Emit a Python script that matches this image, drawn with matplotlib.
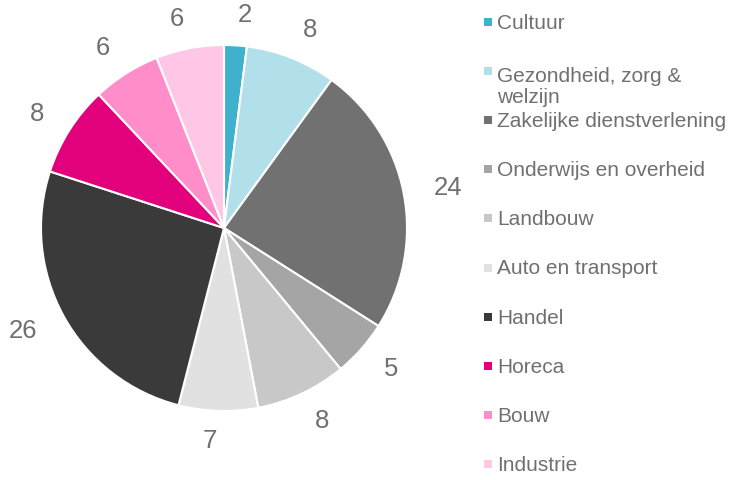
import matplotlib
matplotlib.use("Agg")
import matplotlib.pyplot as plt

sectors = ["Cultuur", "Gezondheid, zorg &\nwelzijn", "Zakelijke dienstverlening",
           "Onderwijs en overheid", "Landbouw", "Auto en transport", "Handel",
           "Horeca", "Bouw", "Industrie"]
values = [2, 8, 24, 5, 8, 7, 26, 8, 6, 6]
colors = ["#3FB1CC", "#B1E0EA", "#717171", "#A5A5A5", "#C8C8C8",
          "#E1E1E1", "#3A3A3A", "#E2007D", "#FF8DCA", "#FFC6E5"]

plt.rcParams['font.family'] = ['Liberation Sans', 'DejaVu Sans']
txt = "#707070"

fig = plt.figure(figsize=(7.34, 4.8), dpi=100)
ax = fig.add_axes([41/734, 69/480, 366/734, 366/480])
ax.pie(values, colors=colors, labels=[str(v) for v in values],
       startangle=90, counterclock=False, labeldistance=1.165,
       wedgeprops=dict(edgecolor='white', linewidth=1.5),
       textprops=dict(color=txt, fontsize=18.5))
ax.set_xlim(-1, 1)
ax.set_ylim(-1, 1)
ax.set_aspect('equal')

# legend drawn in pixel coords
lg = fig.add_axes([0, 0, 1, 1])
lg.set_xlim(0, 734)
lg.set_ylim(480, 0)
lg.axis('off')
y0, step, line_px = 22, 49.1, 25
for i, (name, c) in enumerate(zip(sectors, colors)):
    y = y0 + i * step
    lg.scatter([488], [y], marker='s', s=36, color=c, linewidths=0)
    extra = name.count("\n") * line_px
    lg.text(497, y + 7 + extra, name, color=txt, fontsize=15, va='baseline',
            ha='left', linespacing=1.16)

fig.savefig("out.png", dpi=100)
